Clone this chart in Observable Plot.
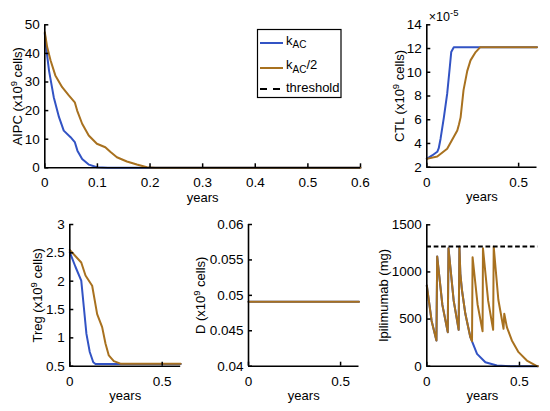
<!DOCTYPE html>
<html>
<head>
<meta charset="utf-8">
<script src="https://cdn.jsdelivr.net/npm/d3@7"></script>
<script src="https://cdn.jsdelivr.net/npm/@observablehq/plot@0.6"></script>
<style>
  body { margin: 0; background: #fff; }
  #chart { position: relative; width: 550px; height: 411px; }
  #chart svg { position: absolute; left: 0; top: 0; }
</style>
</head>
<body>
<div id="chart"></div>
<script>
const font = "'Liberation Sans', Arial, Helvetica, sans-serif";
const blue = "#3253c4";
const brown = "#a8711f";

// AIPC (x10^9 cells)
const aipcT1 = [0, 0.002, 0.008, 0.017, 0.027, 0.036, 0.049, 0.057, 0.062, 0.071, 0.084, 0.099, 0.12, 0.6];
const aipcV1 = [47, 43, 34, 24.7, 17.7, 13, 10.7, 9, 6, 3.1, 1.1, 0.2, 0, 0];
const aipcT2 = [0, 0.0045, 0.011, 0.02, 0.033, 0.0456, 0.057, 0.0615, 0.071, 0.0835, 0.099, 0.115, 0.125, 0.137, 0.156, 0.175, 0.194, 0.21, 0.6];
const aipcV2 = [47.4, 42.2, 37.5, 32.3, 28.2, 25.3, 22.9, 20, 15.4, 11.3, 8.4, 7.2, 5.5, 3.7, 2.2, 1.15, 0.2, 0, 0];

// CTL (x10^-5, x10^9 cells)
const ctlT1 = [0, 0.029, 0.057, 0.065, 0.075, 0.093, 0.111, 0.125, 0.133, 0.147, 0.6];
const ctlV1 = [2.7, 2.99, 3.3, 3.6, 4.4, 6.2, 8.2, 10.4, 11.7, 12.1, 12.1];
const ctlT2 = [0, 0.057, 0.111, 0.166, 0.175, 0.184, 0.2, 0.22, 0.238, 0.266, 0.29, 0.6];
const ctlV2 = [2.7, 2.9, 3.55, 5.1, 5.6, 6.2, 8.5, 10.1, 11, 11.7, 12.1, 12.1];

// Treg
const tregT1 = [0, 0.031, 0.062, 0.076, 0.09, 0.108, 0.127, 0.139, 0.6];
const tregV1 = [2.51, 2.25, 2.01, 1.54, 1.07, 0.75, 0.57, 0.54, 0.54];
const tregT2 = [0, 0.062, 0.085, 0.121, 0.148, 0.175, 0.193, 0.211, 0.238, 0.274, 0.6];
const tregV2 = [2.55, 2.33, 2.1, 1.92, 1.42, 1.19, 0.9, 0.69, 0.59, 0.545, 0.545];

// D
const dT1 = [0, 0.6];
const dV1 = [0.0491, 0.0491];
const dT2 = [0, 0.6];
const dV2 = [0.0491, 0.0491];

// Ipilimumab (mg)
const ipiT2 = [0, 0.026, 0.052, 0.056, 0.084, 0.113, 0.117, 0.145, 0.172, 0.176, 0.181, 0.19, 0.208, 0.235, 0.244, 0.247, 0.274, 0.301, 0.303, 0.331, 0.358, 0.361, 0.386, 0.414, 0.418, 0.432, 0.459, 0.495, 0.54, 0.594, 0.6];
const ipiV2 = [856, 480, 273, 1164, 650, 361, 1252, 695, 386, 1268, 980, 803, 556, 308, 265, 1156, 655, 370, 1250, 695, 386, 1268, 705, 397, 556, 414, 273, 149, 60, 2, 0];
const ipiT1 = [0, 0.026, 0.052, 0.056, 0.084, 0.113, 0.117, 0.145, 0.172, 0.176, 0.181, 0.19, 0.208, 0.235, 0.271, 0.316, 0.378, 0.45, 0.6];
const ipiV1 = [856, 480, 273, 1164, 650, 361, 1252, 695, 386, 1268, 980, 803, 556, 308, 131, 42, 7, 0, 0];
const threshold = 1270;

const fmt = d3.format("~g");

// turn unicode superscripts in label texts into raised tspans
const supMap = {"⁰": "0", "¹": "1", "²": "2", "³": "3", "⁴": "4", "⁵": "5", "⁶": "6", "⁷": "7", "⁸": "8", "⁹": "9", "⁻": "-"};
function supify(svg, supSize) {
  d3.select(svg).selectAll("text").each(function () {
    const s = this.textContent;
    if (![...s].some(c => supMap[c])) return;
    const runs = [];
    for (const c of s) {
      const up = !!supMap[c];
      if (runs.length && runs[runs.length - 1].up === up) runs[runs.length - 1].s += up ? supMap[c] : c;
      else runs.push({up, s: up ? supMap[c] : c});
    }
    const sel = d3.select(this).text(null);
    let raised = false;
    runs.forEach(r => {
      const ts = sel.append("tspan").text(r.s);
      if (r.up && !raised) { ts.attr("dy", -5).attr("font-size", supSize); raised = true; }
      else if (!r.up && raised) { ts.attr("dy", 5); raised = false; }
    });
  });
  return svg;
}

function panel({x0, x1, y0, y1, ydomain, xticks, yticks, series, ylabel, labelDx, extra = []}) {
  const svg = Plot.plot({
    width: 550,
    height: 411,
    marginLeft: x0,
    marginRight: 550 - x1,
    marginTop: y0,
    marginBottom: 411 - y1,
    style: {background: "transparent", fontFamily: font, fontSize: "13px", color: "#000", overflow: "visible"},
    x: {domain: [0, 0.6]},
    y: {domain: ydomain},
    marks: [
      ...series.map(([T, V, c]) => Plot.line(T, {x: T, y: V, stroke: c, strokeWidth: 2})),
      ...extra,
      Plot.axisX({ticks: xticks, tickSize: -4, tickPadding: 14, tickFormat: fmt, label: null, strokeWidth: 1.5, fontSize: 13.5}),
      Plot.axisY({ticks: yticks, tickSize: -4, tickPadding: 9, tickFormat: fmt, label: null, strokeWidth: 1.5, fontSize: 13.5}),
      Plot.ruleX([0], {strokeWidth: 1.6}),
      Plot.ruleY([ydomain[0]], {strokeWidth: 1.6}),
      Plot.text([ylabel], {text: d => d, frameAnchor: "left", rotate: -90, dx: labelDx, textAnchor: "middle", lineAnchor: "middle"}),
      Plot.text(["years"], {text: d => d, frameAnchor: "bottom", dy: 30, textAnchor: "middle", lineAnchor: "middle"})
    ]
  });
  return supify(svg, 9.5);
}

const chart = d3.select("#chart");
const x6 = [0, 0.1, 0.2, 0.3, 0.4, 0.5, 0.6];
const x2 = [0, 0.5];

chart.append(() => panel({
  x0: 44.3, x1: 360, y0: 24.3, y1: 167.3, ydomain: [0, 50],
  xticks: x6, yticks: [0, 10, 20, 30, 40, 50],
  series: [[aipcT1, aipcV1, blue], [aipcT2, aipcV2, brown]],
  ylabel: "AIPC (x10⁹ cells)", labelDx: -26.8
}));

chart.append(() => panel({
  x0: 426.3, x1: 536.5, y0: 24.3, y1: 166.7, ydomain: [2, 14],
  xticks: x2, yticks: [2, 4, 6, 8, 10, 12, 14],
  series: [[ctlT1, ctlV1, blue], [ctlT2, ctlV2, brown]],
  ylabel: "CTL (x10⁹ cells)", labelDx: -27.2,
  extra: [Plot.text(["×10⁻⁵"], {text: d => d, frameAnchor: "top-left", dx: 2, dy: -4, textAnchor: "start", lineAnchor: "bottom", fontSize: 12.5})]
}));

chart.append(() => panel({
  x0: 69.3, x1: 180.2, y0: 224, y1: 365.7, ydomain: [0.5, 3],
  xticks: x2, yticks: [0.5, 1, 1.5, 2, 2.5, 3],
  series: [[tregT1, tregV1, blue], [tregT2, tregV2, brown]],
  ylabel: "Treg (x10⁹ cells)", labelDx: -31.8
}));

chart.append(() => panel({
  x0: 248, x1: 358.5, y0: 224, y1: 365.7, ydomain: [0.04, 0.06],
  xticks: x2, yticks: [0.04, 0.045, 0.05, 0.055, 0.06],
  series: [[dT1, dV1, blue], [dT2, dV2, brown]],
  ylabel: "D (x10⁹ cells)", labelDx: -47.2
}));

chart.append(() => panel({
  x0: 426.3, x1: 537.5, y0: 224.3, y1: 365.7, ydomain: [0, 1500],
  xticks: x2, yticks: [0, 500, 1000, 1500],
  series: [[ipiT1, ipiV1, blue], [ipiT2, ipiV2, brown]],
  ylabel: "Ipilimumab (mg)", labelDx: -42.8,
  extra: [Plot.ruleY([threshold], {stroke: "#000", strokeWidth: 2, strokeDasharray: "4.7,2.7"})]
}));

// legend
const leg = chart.append("svg").attr("width", 550).attr("height", 411)
  .style("font-family", font).style("font-size", "13px");
leg.append("rect").attr("x", 257.5).attr("y", 29.5).attr("width", 83.5).attr("height", 68)
  .attr("fill", "#fff").attr("stroke", "#000").attr("stroke-width", 1.2);
const rows = [
  {stroke: blue, dash: null, ly: 43, ty: 44.7, main: "k", sub: "AC", tail: ""},
  {stroke: brown, dash: null, ly: 68, ty: 69.2, main: "k", sub: "AC", tail: "/2"},
  {stroke: "#000", dash: "7,6", ly: 89, ty: 92.3, main: "threshold", sub: "", tail: ""}
];
rows.forEach(r => {
  leg.append("line").attr("x1", 260).attr("x2", 283).attr("y1", r.ly).attr("y2", r.ly)
    .attr("stroke", r.stroke).attr("stroke-width", 2).attr("stroke-dasharray", r.dash);
  const t = leg.append("text").attr("x", 286).attr("y", r.ty).text(r.main);
  if (r.sub) t.append("tspan").attr("dy", 3.6).attr("font-size", 10).text(r.sub);
  if (r.tail) t.append("tspan").attr("dy", -3.6).text(r.tail);
});
</script>
</body>
</html>
